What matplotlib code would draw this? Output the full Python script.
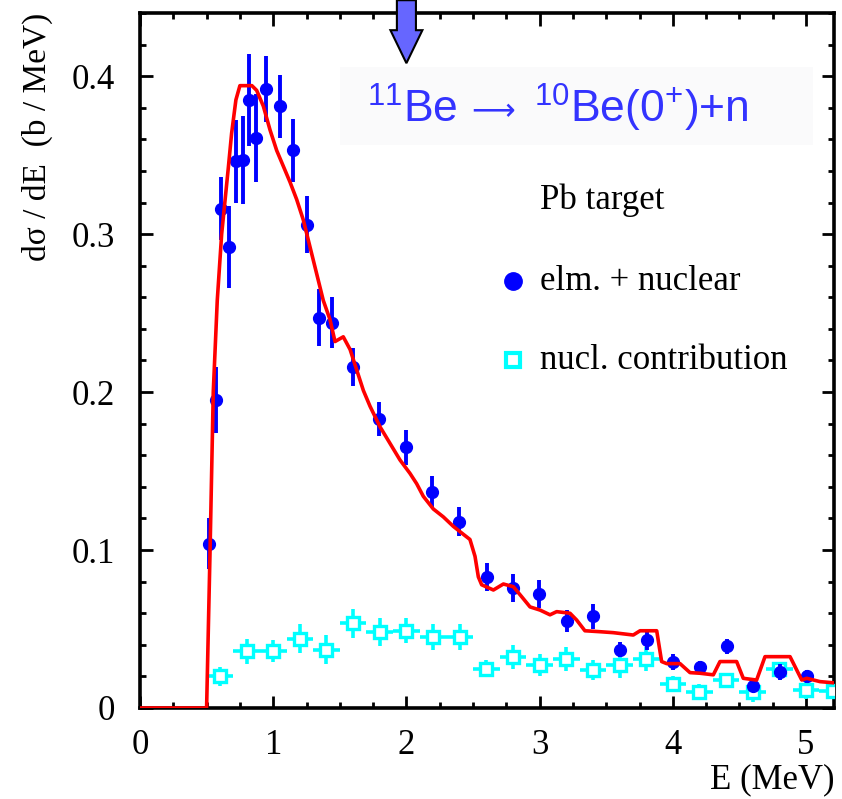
import matplotlib
matplotlib.use("Agg")
import matplotlib.pyplot as plt
from matplotlib.patches import FancyArrow, Rectangle
from matplotlib.ticker import MultipleLocator, FuncFormatter

# ---- data ----
# theory curve (red)
E_th = [0.0, 0.46, 0.50, 0.526, 0.55, 0.58, 0.613, 0.663, 0.688, 0.72, 0.75, 0.84, 0.876,
        0.926, 0.976, 1.026, 1.076, 1.126, 1.176, 1.226, 1.276, 1.326, 1.376, 1.426, 1.464,
        1.526, 1.577, 1.627, 1.677, 1.727, 1.802, 1.877, 1.952, 2.027, 2.077, 2.127, 2.202,
        2.277, 2.352, 2.427, 2.477, 2.515, 2.54, 2.565, 2.653, 2.728, 2.803, 2.865, 2.928,
        3.003, 3.078, 3.128, 3.228, 3.278, 3.34, 3.453, 3.553, 3.703, 3.754, 3.879, 3.916,
        3.954, 4.054, 4.129, 4.204, 4.304, 4.354, 4.479, 4.529, 4.629, 4.692, 4.88, 4.968,
        5.005, 5.105, 5.2]
sig_th = [0.0, 0.0, 0.0, 0.1, 0.2, 0.258, 0.30, 0.342, 0.364, 0.385, 0.394, 0.394, 0.391,
          0.381, 0.366, 0.353, 0.343, 0.333, 0.322, 0.309, 0.292, 0.275, 0.258, 0.246, 0.232,
          0.235, 0.227, 0.214, 0.201, 0.191, 0.178, 0.1675, 0.157, 0.1485, 0.142, 0.134, 0.126,
          0.121, 0.115, 0.110, 0.1067, 0.096, 0.083, 0.078, 0.0747, 0.0785, 0.0768, 0.0705, 0.064,
          0.062, 0.059, 0.061, 0.060, 0.0557, 0.0489, 0.0483, 0.0477, 0.0462, 0.0489, 0.0489, 0.0294,
          0.0281, 0.0281, 0.0224, 0.022, 0.021, 0.0294, 0.0294, 0.0188, 0.0177, 0.0325, 0.0325, 0.0177,
          0.0188, 0.0167, 0.016]

# elm. + nuclear (blue)
E_b = [0.52, 0.568, 0.606, 0.668, 0.72, 0.776, 0.818, 0.868, 0.946, 1.049, 1.146, 1.256,
       1.346, 1.444, 1.597, 1.797, 1.997, 2.195, 2.397, 2.603, 2.803, 2.996, 3.203, 3.403,
       3.604, 3.804, 4.004, 4.204, 4.404, 4.604, 4.805, 5.005]
sig_b = [0.104, 0.195, 0.316, 0.292, 0.346, 0.347, 0.385, 0.361, 0.392, 0.381, 0.353, 0.306,
         0.247, 0.244, 0.216, 0.183, 0.165, 0.137, 0.118, 0.083, 0.076, 0.072, 0.055, 0.058,
         0.037, 0.043, 0.029, 0.026, 0.039, 0.014, 0.023, 0.020]
err_b = [0.016, 0.021, 0.020, 0.026, 0.026, 0.028, 0.029, 0.028, 0.021, 0.020, 0.020, 0.018,
         0.018, 0.016, 0.012, 0.011, 0.011, 0.010, 0.009, 0.009, 0.009, 0.009, 0.007, 0.008,
         0.005, 0.006, 0.005, 0.004, 0.005, 0.004, 0.005, 0.004]

# nucl. contribution (cyan)
E_c = [0.6, 0.8, 1.0, 1.2, 1.4, 1.6, 1.8, 2.0, 2.2, 2.4, 2.6, 2.8, 3.0, 3.2, 3.4, 3.6, 3.8,
       4.0, 4.2, 4.4, 4.6, 4.8, 5.0, 5.2]
sig_c = [0.020, 0.036, 0.036, 0.044, 0.037, 0.0535, 0.048, 0.049, 0.045, 0.045, 0.025, 0.0325,
         0.027, 0.031, 0.024, 0.027, 0.031, 0.015, 0.010, 0.018, 0.010, 0.0245, 0.0115, 0.011]
err_c = [0.006, 0.008, 0.007, 0.009, 0.009, 0.009, 0.009, 0.008, 0.008, 0.008, 0.0055, 0.0075,
         0.007, 0.0075, 0.0065, 0.008, 0.0075, 0.005, 0.005, 0.004, 0.006, 0.0045, 0.0055, 0.005]
xerr_c = 0.1

x_ticks = [0, 1, 2, 3, 4, 5]
y_ticks = [0, 0.1, 0.2, 0.3, 0.4]
arrow_E = 2.0

title_left = r"$^{11}$Be"
title_arrow = "⟶"
title_right = r"$^{10}$Be(0$^{+}$)+n"
legend_title = "Pb target"
label_b = "elm. + nuclear"
label_c = "nucl. contribution"

# ---- figure ----
plt.rcParams['font.family'] = ['Liberation Serif', 'DejaVu Serif']
plt.rcParams['mathtext.default'] = 'regular'

W, H = 842, 799
fig = plt.figure(figsize=(W / 100, H / 100), dpi=100)
fig.patch.set_facecolor('white')
ax = fig.add_axes([140 / W, 1 - 708 / H, (834 - 140) / W, (708 - 13) / H])

BLUE = '#0000ff'
CYAN = '#00ffff'
RED = '#ff0000'
TITLE_C = '#3333ff'

ax.errorbar(E_c, sig_c, yerr=err_c, xerr=xerr_c, fmt='s', color=CYAN, mfc='white',
            mec=CYAN, mew=2.4, ms=8.5, elinewidth=2.6, capsize=0, zorder=3)
ax.errorbar(E_b, sig_b, yerr=err_b, fmt='o', color=BLUE, ms=8.5, elinewidth=2.8,
            capsize=0, zorder=4)
ax.plot(E_th, sig_th, color=RED, lw=2.6, zorder=5, solid_joinstyle='round')

ax.set_xlim(0, 5.21)
ax.set_ylim(0, 0.44)

ax.xaxis.set_major_locator(MultipleLocator(1))
ax.xaxis.set_minor_locator(MultipleLocator(0.25))
ax.yaxis.set_major_locator(MultipleLocator(0.1))
ax.yaxis.set_minor_locator(MultipleLocator(0.02))
ax.set_xticks(x_ticks)
ax.set_yticks(y_ticks)
ax.yaxis.set_major_formatter(FuncFormatter(lambda v, p: '0' if abs(v) < 1e-9 else f'{v:.1f}'))
ax.xaxis.set_major_formatter(FuncFormatter(lambda v, p: f'{v:.0f}'))
ax.tick_params(which='both', direction='in', top=True, right=True, labelsize=25)
ax.tick_params(which='major', length=9, width=2.0)
ax.tick_params(which='minor', length=4.5, width=2.0)
ax.tick_params(axis='y', which='major', pad=18)
ax.tick_params(axis='x', which='major', pad=15)
for s in ax.spines.values():
    s.set_linewidth(2.6)

ax.set_ylabel("dσ / dE  (b / MeV)", fontsize=24, loc='top')
ax.yaxis.set_label_coords(-0.125, 1.0)
ax.set_xlabel("E (MeV)", fontsize=25, loc='right')
ax.xaxis.set_label_coords(1.0, -0.08)

# faint box behind the reaction title
ax.add_patch(Rectangle(((340 - 140) / 694, (708 - 145) / 695), (813 - 340) / 694, 78 / 695,
                       transform=ax.transAxes, facecolor='#fafafb', edgecolor='none', zorder=1))
sans = ['Liberation Sans', 'DejaVu Sans']
base_y = (708 - 123) / 695
ax.text((367 - 140) / 694, base_y, title_left, transform=ax.transAxes,
        fontsize=32, color=TITLE_C, family=sans, ha='left', va='baseline', zorder=6)
ax.text((471 - 140) / 694, (708 - 109) / 695, title_arrow, transform=ax.transAxes,
        fontsize=22, color=TITLE_C, family=['DejaVu Sans'], ha='left', va='center_baseline',
        zorder=6)
ax.text((534 - 140) / 694, base_y, title_right, transform=ax.transAxes,
        fontsize=32, color=TITLE_C, family=sans, ha='left', va='baseline', zorder=6)

# arrow at E = 2 MeV, coming from above the frame
y_top = 708 / 1580
y_tip = (708 - 63) / 1580
arr = FancyArrow(arrow_E, y_top, 0, y_tip - y_top, width=0.143, head_width=0.24,
                 head_length=33 / 1580, length_includes_head=True,
                 facecolor='#6666ff', edgecolor='black', lw=1.5, clip_on=False, zorder=7)
ax.add_patch(arr)

# legend (manual)
ax.text((540 - 140) / 694, (708 - 200) / 695, legend_title, transform=ax.transAxes,
        fontsize=25, ha='left', va='center', zorder=6)
ax.plot([(513 - 140) / 694], [(708 - 281) / 695], 'o', color=BLUE, ms=12.5,
        transform=ax.transAxes, zorder=6)
ax.text((540 - 140) / 694, (708 - 281) / 695, label_b, transform=ax.transAxes,
        fontsize=25, ha='left', va='center', zorder=6)
ax.plot([(513 - 140) / 694], [(708 - 360) / 695], 's', mfc='white', mec=CYAN, mew=3, ms=10,
        transform=ax.transAxes, zorder=6)
ax.text((540 - 140) / 694, (708 - 360) / 695, label_c, transform=ax.transAxes,
        fontsize=25, ha='left', va='center', zorder=6)

fig.savefig("out.png", dpi=100)
